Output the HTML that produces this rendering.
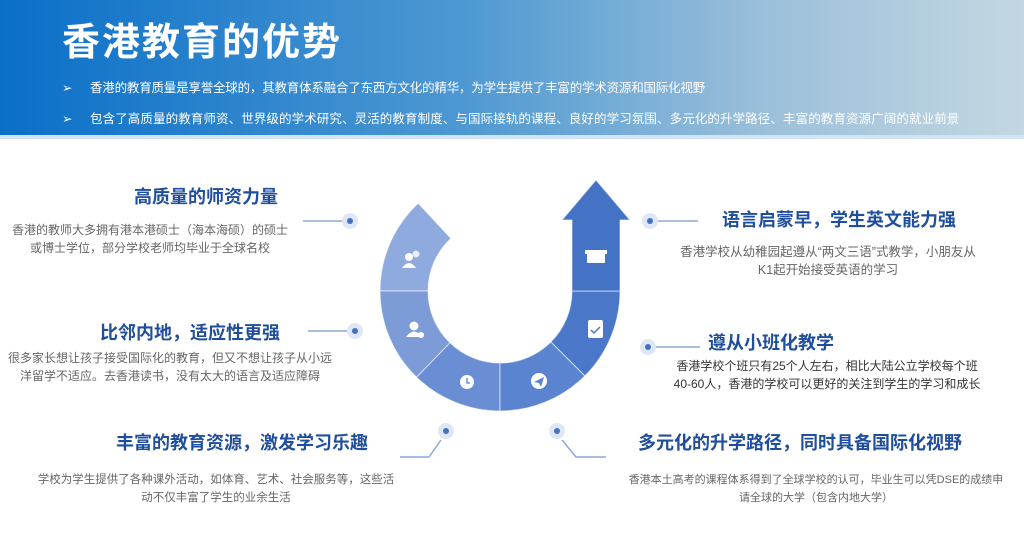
<!DOCTYPE html>
<html><head><meta charset="utf-8"><style>
body{margin:0;width:1024px;height:551px;overflow:hidden;background:#fff;font-family:"Liberation Sans","Noto Sans CJK SC",sans-serif;position:relative}
.hdr{position:absolute;left:0;top:0;width:1024px;height:135px;background:linear-gradient(90deg,#0a6fc8 0%,#4d98d2 45%,#9cc0da 75%,#c3d7e2 100%)}
.strip{position:absolute;left:0;top:135px;width:1024px;height:4px;background:#d4e3f3}
.title{position:absolute;left:62px;top:18px;font-size:38px;font-weight:bold;color:#fff;letter-spacing:2px;line-height:50px}
.b{position:absolute;left:62px;font-size:12.5px;color:#fff;line-height:16px;white-space:nowrap}
.b span{display:inline-block;width:28px}
.t{position:absolute;font-size:18px;font-weight:bold;color:#1f4e9c;white-space:nowrap;transform:translateX(-50%);line-height:22px}
.d{position:absolute;font-size:12px;color:#666;white-space:nowrap;transform:translateX(-50%);line-height:18px;text-align:center}
</style></head><body>
<div class="hdr"></div><div class="strip"></div>
<div class="title">香港教育的优势</div>
<div class="b" style="top:80px;letter-spacing:-0.2px"><span>➢</span>香港的教育质量是享誉全球的，其教育体系融合了东西方文化的精华，为学生提供了丰富的学术资源和国际化视野</div>
<div class="b" style="top:111px;letter-spacing:0.1px"><span>➢</span>包含了高质量的教育师资、世界级的学术研究、灵活的教育制度、与国际接轨的课程、良好的学习氛围、多元化的升学路径、丰富的教育资源广阔的就业前景</div>

<svg width="1024" height="551" style="position:absolute;left:0;top:0">
<g stroke="#fff" stroke-width="1" stroke-opacity="0.6">
<path d="M418.2,203.3 A120 120 0 0 0 380,291 L428,291 A72 72 0 0 1 450.9,238.4 Z" fill="#8eaadf"/>
<path d="M380,291 A120 120 0 0 0 416.6,377.3 L450,342.8 A72 72 0 0 1 428,291 Z" fill="#7c9bd7"/>
<path d="M416.6,377.3 A120 120 0 0 0 500,411 L500,363 A72 72 0 0 1 450,342.8 Z" fill="#6a8ed3"/>
<path d="M500,411 A120 120 0 0 0 584.9,375.9 L550.9,341.9 A72 72 0 0 1 500,363 Z" fill="#5a84cf"/>
<path d="M584.9,375.9 A120 120 0 0 0 620,291 L572,291 A72 72 0 0 1 550.9,341.9 Z" fill="#4a77c8"/>
<path d="M572,291 L572,220 L562,220 L596,180 L630,220 L620,220 L620,291 Z" fill="#4472c4"/>
</g>
<g fill="#fff">
<circle cx="409" cy="257" r="4"/><path d="M402,268 q7,-10 14,0z"/><circle cx="416" cy="254" r="3.5" opacity=".8"/>
<circle cx="414" cy="326" r="4.5"/><path d="M406,337 q8,-11 16,0z"/><circle cx="421" cy="335" r="3"/>
<circle cx="467" cy="382" r="7"/><circle cx="539" cy="381" r="8"/>
<rect x="587" y="253" width="18" height="10" rx="1"/><rect x="585" y="250" width="22" height="4"/>
<rect x="588" y="320" width="15" height="18" rx="2"/>
</g>
<path d="M467,378 v5 h3" stroke="#6a8ed3" stroke-width="1.5" fill="none"/>
<path d="M534,382 l10,-5 -3,10 -2,-4z" fill="#5a84cf"/>
<path d="M591,330 l3,3 6,-6" stroke="#4a77c8" stroke-width="1.5" fill="none"/>
<g stroke="#8ea8dc" stroke-width="1.5" fill="none">
<line x1="303" y1="221" x2="342" y2="221"/>
<line x1="308" y1="331" x2="347" y2="331"/>
<line x1="658" y1="221" x2="698" y2="221"/>
<line x1="656" y1="347" x2="700" y2="347"/>
<polyline points="441,440 429,457 400,457"/>
<polyline points="562,440 576,457 606,457"/>
</g>
<g fill="#dfe6f5"><circle cx="350" cy="221" r="8"/><circle cx="355" cy="331" r="8"/><circle cx="650" cy="221" r="8"/><circle cx="648" cy="347" r="8"/><circle cx="446" cy="431" r="8"/><circle cx="557" cy="431" r="8"/></g>
<g fill="#4472c4"><circle cx="350" cy="221" r="3"/><circle cx="355" cy="331" r="3"/><circle cx="650" cy="221" r="3"/><circle cx="648" cy="347" r="3"/><circle cx="446" cy="431" r="3"/><circle cx="557" cy="431" r="3"/></g>
</svg>

<div class="t" style="left:206px;top:186px">高质量的师资力量</div>
<div class="d" style="left:150px;top:221px">香港的教师大多拥有港本港硕士（海本海硕）的硕士<br>或博士学位，部分学校老师均毕业于全球名校</div>
<div class="t" style="left:190px;top:322px">比邻内地，适应性更强</div>
<div class="d" style="left:170px;top:349px">很多家长想让孩子接受国际化的教育，但又不想让孩子从小远<br>洋留学不适应。去香港读书，没有太大的语言及适应障碍</div>
<div class="t" style="left:242px;top:432px">丰富的教育资源，激发学习乐趣</div>
<div class="d" style="left:216px;top:471px;font-size:11.5px">学校为学生提供了各种课外活动，如体育、艺术、社会服务等，这些活<br>动不仅丰富了学生的业余生活</div>
<div class="t" style="left:839px;top:209px">语言启蒙早，学生英文能力强</div>
<div class="d" style="left:828px;top:243px;font-size:12.5px">香港学校从幼稚园起遵从“两文三语”式教学，小朋友从<br>K1起开始接受英语的学习</div>
<div class="t" style="left:771px;top:332px">遵从小班化教学</div>
<div class="d" style="left:827px;top:357px;color:#333">香港学校个班只有25个人左右，相比大陆公立学校每个班<br>40-60人，香港的学校可以更好的关注到学生的学习和成长</div>
<div class="t" style="left:800px;top:432px">多元化的升学路径，同时具备国际化视野</div>
<div class="d" style="left:816px;top:471px;font-size:11px">香港本土高考的课程体系得到了全球学校的认可，毕业生可以凭DSE的成绩申<br>请全球的大学（包含内地大学）</div>
</body></html>
